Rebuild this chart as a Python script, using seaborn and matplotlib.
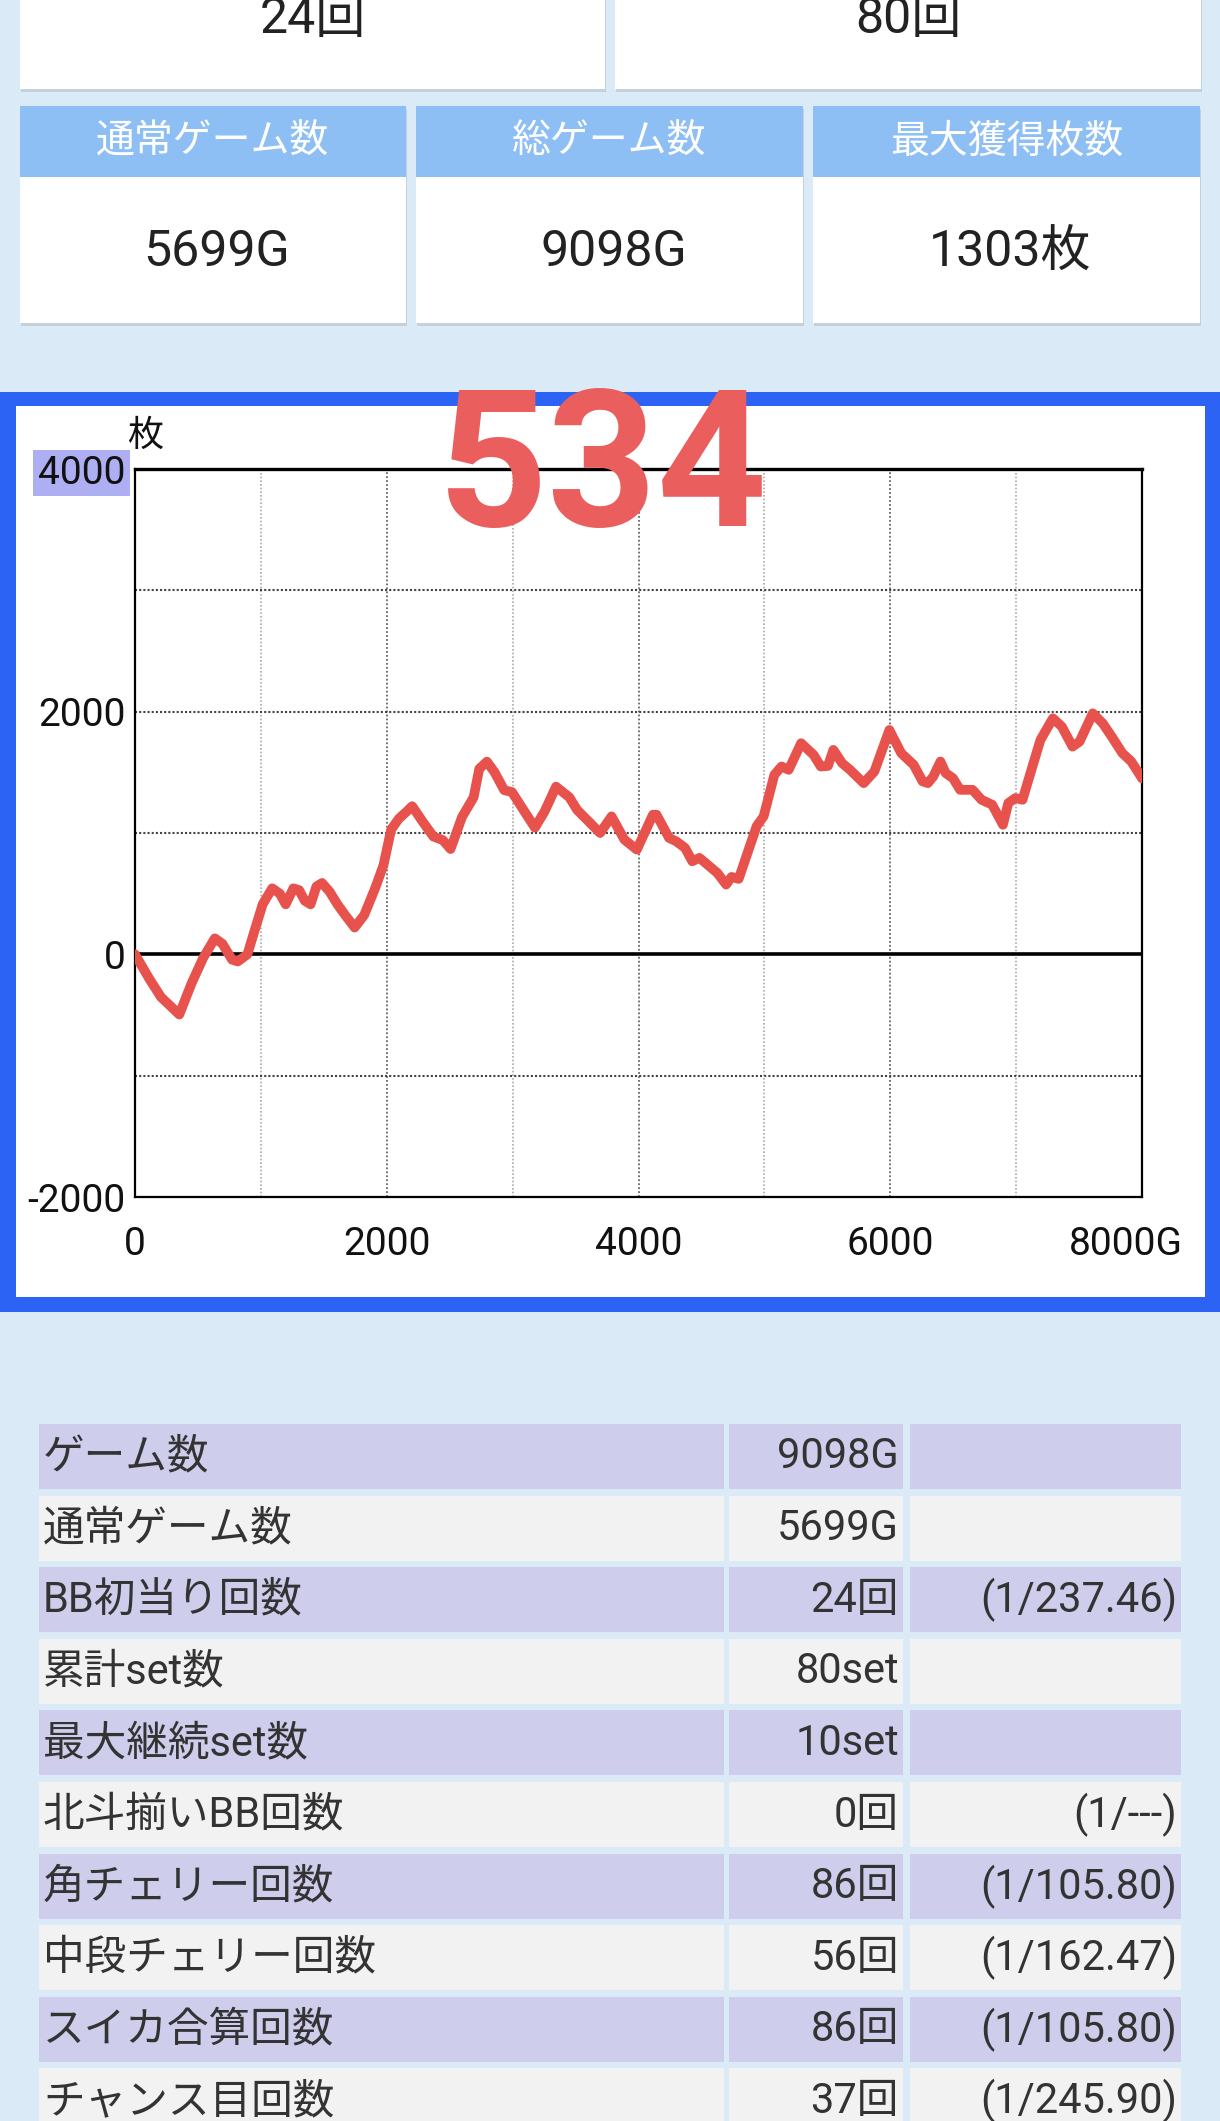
import numpy as np
import matplotlib
matplotlib.use("Agg")
import matplotlib.pyplot as plt
import seaborn as sns
from matplotlib.patches import Rectangle
from matplotlib.transforms import offset_copy

# -----------------------------
# Data
# -----------------------------

top_values = ["24回", "80回"]

card_titles = ["通常ゲーム数", "総ゲーム数", "最大獲得枚数"]
card_values = ["5699G", "9098G", "1303枚"]

current_diff = "534"

games = [0, 116, 207, 352, 451, 542, 634, 694, 771, 816, 893, 953, 1014, 1090,
         1151, 1197, 1258, 1304, 1349, 1395, 1441, 1486, 1547, 1608, 1669, 1745,
         1821, 1913, 1974, 2035, 2096, 2157, 2202, 2279, 2370, 2446, 2507, 2598,
         2690, 2735, 2796, 2857, 2933, 2994, 3177, 3253, 3345, 3451, 3512, 3695,
         3786, 3888, 3987, 4115, 4143, 4243, 4299, 4370, 4427, 4484, 4626, 4696,
         4739, 4796, 4938, 4994, 5079, 5136, 5193, 5292, 5391, 5448, 5505, 5548,
         5618, 5675, 5789, 5874, 5993, 6087, 6186, 6257, 6299, 6342, 6399, 6441,
         6498, 6555, 6654, 6725, 6810, 6895, 6938, 6994, 7051, 7094, 7193, 7292,
         7363, 7448, 7504, 7609, 7688, 7759, 7844, 7915, 7991, 8000]

diff = [0, -206, -353, -496, -235, -29, 132, 88, -44, -59, 0, 206, 412, 544,
        500, 412, 544, 529, 441, 412, 559, 588, 515, 412, 324, 221,
        324, 559, 735, 1029, 1118, 1176, 1221, 1103, 971, 941, 868, 1132,
        1294, 1529, 1588, 1500, 1353, 1338, 1044, 1176, 1382, 1294, 1191, 1000,
        1137, 945, 863, 1151, 1151, 959, 932, 877, 767, 795, 671, 575,
        638, 622, 1055, 1137, 1479, 1548, 1521, 1740, 1644, 1548, 1553, 1685,
        1575, 1526, 1411, 1507, 1849, 1658, 1562, 1425, 1411, 1466, 1589, 1493,
        1452, 1356, 1356, 1274, 1233, 1068, 1247, 1288, 1274, 1425, 1767, 1945,
        1877, 1712, 1753, 1986, 1904, 1795, 1658, 1589, 1466, 1450]

x_ticks = [0, 2000, 4000, 6000, 8000]
x_labels = ["0", "2000", "4000", "6000", "8000G"]
y_ticks = [-2000, 0, 2000, 4000]
y_labels = ["-2000", "0", "2000", "4000"]

row_labels = ["ゲーム数", "通常ゲーム数", "BB初当り回数", "累計set数", "最大継続set数",
              "北斗揃いBB回数", "角チェリー回数", "中段チェリー回数", "スイカ合算回数",
              "チャンス目回数"]
row_values = ["9098G", "5699G", "24回", "80set", "10set",
              "0回", "86回", "56回", "86回", "37回"]
row_ratios = ["", "", "(1/237.46)", "", "",
              "(1/---)", "(1/105.80)", "(1/162.47)", "(1/105.80)", "(1/245.90)"]

# -----------------------------
# Styling
# -----------------------------

sns.set_style("white")
plt.rcParams["font.family"] = ["Roboto", "Noto Sans CJK JP", "DejaVu Sans"]

BG = "#dbeaf7"
HEADER = "#8ebff4"
FRAME = "#2d63f5"
RED = "#e8524c"
TEXT = "#333333"

W, H = 1220, 2121
fig = plt.figure(figsize=(W / 100, H / 100), dpi=100)
fig.patch.set_facecolor(BG)

# page layer in pixel coordinates
bg = fig.add_axes([0, 0, 1, 1], zorder=0)
bg.set_xlim(0, W)
bg.set_ylim(H, 0)
bg.axis("off")


def card(x0, y0, x1, y1, color="white"):
    bg.add_patch(Rectangle((x0 + 1, y0 + 3), x1 - x0, y1 - y0,
                           facecolor="#c3d1dd", edgecolor="none"))
    bg.add_patch(Rectangle((x0, y0), x1 - x0, y1 - y0,
                           facecolor=color, edgecolor="none"))


# -----------------------------
# Top cards
# -----------------------------

top_x = [(20, 605), (615, 1201)]
for (x0, x1), val in zip(top_x, top_values):
    card(x0, -20, x1, 89)
    bg.text((x0 + x1) / 2, 33, val, ha="center", va="baseline",
            fontsize=36, color="#222222")

box_x = [(20, 406), (416, 803), (813, 1200)]
for (x0, x1), title, val in zip(box_x, card_titles, card_values):
    card(x0, 106, x1, 323)
    bg.add_patch(Rectangle((x0, 106), x1 - x0, 71, facecolor=HEADER,
                           edgecolor="none"))
    bg.text((x0 + x1) / 2, 142, title, ha="center", va="center",
            fontsize=28, color="white")
    bg.text((x0 + x1) / 2 + 4, 266, val, ha="center", va="baseline",
            fontsize=36, color="#222222")

# -----------------------------
# Chart panel
# -----------------------------

bg.add_patch(Rectangle((0, 392), W, 920, facecolor=FRAME, edgecolor="none"))
bg.add_patch(Rectangle((16, 406), 1189, 891, facecolor="white", edgecolor="none"))
bg.text(145, 436, "枚", ha="center", va="center", fontsize=26, color="#111111")

left, right, top, bottom = 135, 1142, 469, 1197
ax = fig.add_axes([left / W, 1 - bottom / H, (right - left) / W, (bottom - top) / H],
                  zorder=1)

sns.lineplot(x=games, y=diff, ax=ax, color=RED, zorder=4)
for line in ax.lines:
    line.set_linewidth(7)
    line.set_solid_joinstyle("round")
    line.set_solid_capstyle("round")
ax.axhline(0, color="black", linewidth=2.6, zorder=3)

ax.set_xlim(0, 8000)
ax.set_ylim(-2000, 4000)
ax.set_xticks(x_ticks)
ax.set_xticklabels(x_labels)
ax.set_xticks(np.arange(1000, 8000, 2000), minor=True)
ax.set_yticks(y_ticks)
ax.set_yticklabels(y_labels)
ax.set_yticks(np.arange(-1000, 4000, 2000), minor=True)
ax.set_xlabel("")
ax.set_ylabel("")

ax.grid(which="major", axis="x", color="#666666", linestyle=(0, (1, 1.2)), linewidth=1.3)
ax.grid(which="minor", axis="x", color="#aaaaaa", linestyle=(0, (1, 1.2)), linewidth=1.2)
ax.grid(which="both", axis="y", color="#444444", linestyle=(0, (1, 1)), linewidth=1.5)

ax.tick_params(which="both", length=0)
ax.tick_params(axis="x", pad=21, labelsize=28, labelcolor="#111111")
ax.tick_params(axis="y", pad=7, labelsize=28, labelcolor="#111111")

for s in ax.spines.values():
    s.set_color("black")
    s.set_linewidth(1.6)
ax.spines["top"].set_linewidth(2.4)

# last x label sits a little left of its tick
last = ax.get_xticklabels()[-1]
last.set_transform(offset_copy(last.get_transform(), fig=fig, x=-16, y=0, units="dots"))

# highlighted top label
ax.get_yticklabels()[-1].set_bbox(dict(facecolor="#aeaef2", edgecolor="none",
                                       boxstyle="square,pad=0.12"))

fig.text(603 / W, 1 - 526 / H, current_diff, ha="center", va="baseline",
         fontsize=138, fontweight="bold", color="#eb5e5e", zorder=10)

# -----------------------------
# Table
# -----------------------------

cols = [(39, 724), (729, 903), (910, 1181)]
for i, (lab, val, rat) in enumerate(zip(row_labels, row_values, row_ratios)):
    y0 = 1424 + i * 71.6
    color = "#cecdec" if i % 2 == 0 else "#f2f2f2"
    for x0, x1 in cols:
        bg.add_patch(Rectangle((x0, y0), x1 - x0, 65, facecolor=color,
                               edgecolor="none"))
    yc = y0 + 33
    bg.text(43, yc, lab, ha="left", va="center", fontsize=30, color=TEXT)
    bg.text(899, yc, val, ha="right", va="center", fontsize=30, color=TEXT)
    if rat:
        bg.text(1177, yc, rat, ha="right", va="center", fontsize=30, color=TEXT)

fig.savefig("out.png", dpi=100, facecolor=fig.get_facecolor())
